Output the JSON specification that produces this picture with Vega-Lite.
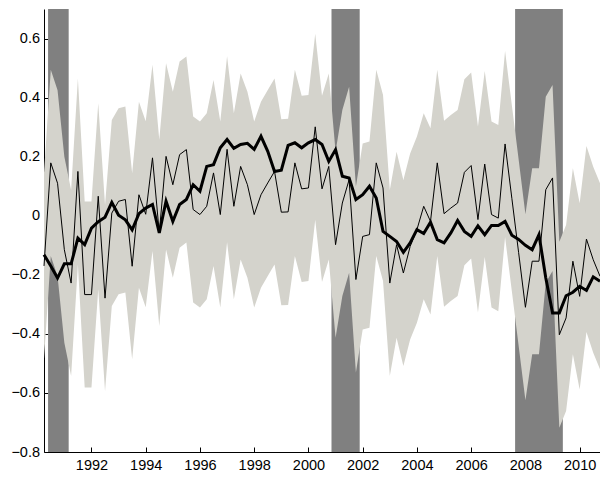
{
  "$schema": "https://vega.github.io/schema/vega-lite/v6.json",
  "width": 556,
  "height": 443,
  "autosize": {"type": "none"},
  "padding": {"left": 44, "top": 9, "right": 0, "bottom": 25},
  "background": "white",
  "config": {
    "view": {"stroke": null},
    "axis": {
      "grid": false,
      "domainColor": "black",
      "domainWidth": 1,
      "tickColor": "black",
      "tickWidth": 1,
      "labelColor": "black",
      "labelFont": "Liberation Sans",
      "labelFontSize": 14.5,
      "title": null
    }
  },
  "datasets": {
    "rec": [
      {"start": 1990.4, "end": 1991.16},
      {"start": 2000.85, "end": 2001.89},
      {"start": 2007.62, "end": 2009.38}
    ],
    "series": [
      {"t": 1990.25, "thin": -0.17, "bold": -0.132, "lo": -0.485, "hi": 0.145},
      {"t": 1990.5, "thin": 0.179, "bold": -0.17, "lo": -0.136, "hi": 0.494},
      {"t": 1990.75, "thin": 0.11, "bold": -0.211, "lo": -0.205, "hi": 0.425},
      {"t": 1991.0, "thin": -0.115, "bold": -0.163, "lo": -0.43, "hi": 0.2},
      {"t": 1991.25, "thin": -0.228, "bold": -0.163, "lo": -0.543, "hi": 0.087},
      {"t": 1991.5, "thin": 0.15, "bold": -0.076, "lo": -0.165, "hi": 0.465},
      {"t": 1991.75, "thin": -0.267, "bold": -0.098, "lo": -0.582, "hi": 0.048},
      {"t": 1992.0, "thin": -0.267, "bold": -0.042, "lo": -0.582, "hi": 0.048},
      {"t": 1992.25, "thin": 0.066, "bold": -0.02, "lo": -0.249, "hi": 0.381},
      {"t": 1992.5, "thin": -0.279, "bold": -0.005, "lo": -0.594, "hi": 0.036},
      {"t": 1992.75, "thin": 0.009, "bold": 0.045, "lo": -0.306, "hi": 0.324},
      {"t": 1993.0, "thin": 0.049, "bold": 0.002, "lo": -0.266, "hi": 0.364},
      {"t": 1993.25, "thin": 0.055, "bold": -0.014, "lo": -0.26, "hi": 0.37},
      {"t": 1993.5, "thin": -0.171, "bold": -0.048, "lo": -0.486, "hi": 0.144},
      {"t": 1993.75, "thin": 0.071, "bold": 0.007, "lo": -0.244, "hi": 0.386},
      {"t": 1994.0, "thin": 0.005, "bold": 0.026, "lo": -0.31, "hi": 0.32},
      {"t": 1994.25, "thin": 0.196, "bold": 0.038, "lo": -0.119, "hi": 0.511},
      {"t": 1994.5, "thin": -0.058, "bold": -0.058, "lo": -0.373, "hi": 0.257},
      {"t": 1994.75, "thin": 0.201, "bold": 0.049, "lo": -0.114, "hi": 0.516},
      {"t": 1995.0, "thin": 0.105, "bold": -0.019, "lo": -0.21, "hi": 0.42},
      {"t": 1995.25, "thin": 0.207, "bold": 0.038, "lo": -0.108, "hi": 0.522},
      {"t": 1995.5, "thin": 0.224, "bold": 0.055, "lo": -0.091, "hi": 0.539},
      {"t": 1995.75, "thin": 0.021, "bold": 0.105, "lo": -0.294, "hi": 0.336},
      {"t": 1996.0, "thin": 0.004, "bold": 0.083, "lo": -0.311, "hi": 0.319},
      {"t": 1996.25, "thin": 0.032, "bold": 0.167, "lo": -0.283, "hi": 0.347},
      {"t": 1996.5, "thin": 0.145, "bold": 0.173, "lo": -0.17, "hi": 0.46},
      {"t": 1996.75, "thin": 0.004, "bold": 0.23, "lo": -0.311, "hi": 0.319},
      {"t": 1997.0, "thin": 0.225, "bold": 0.258, "lo": -0.09, "hi": 0.54},
      {"t": 1997.25, "thin": 0.032, "bold": 0.228, "lo": -0.283, "hi": 0.347},
      {"t": 1997.5, "thin": 0.167, "bold": 0.241, "lo": -0.148, "hi": 0.482},
      {"t": 1997.75, "thin": 0.105, "bold": 0.245, "lo": -0.21, "hi": 0.42},
      {"t": 1998.0, "thin": 0.004, "bold": 0.225, "lo": -0.311, "hi": 0.319},
      {"t": 1998.25, "thin": 0.071, "bold": 0.269, "lo": -0.244, "hi": 0.386},
      {"t": 1998.5, "thin": 0.111, "bold": 0.218, "lo": -0.204, "hi": 0.426},
      {"t": 1998.75, "thin": 0.15, "bold": 0.15, "lo": -0.165, "hi": 0.465},
      {"t": 1999.0, "thin": 0.012, "bold": 0.154, "lo": -0.303, "hi": 0.327},
      {"t": 1999.25, "thin": 0.013, "bold": 0.238, "lo": -0.302, "hi": 0.328},
      {"t": 1999.5, "thin": 0.179, "bold": 0.247, "lo": -0.136, "hi": 0.494},
      {"t": 1999.75, "thin": 0.091, "bold": 0.23, "lo": -0.224, "hi": 0.406},
      {"t": 2000.0, "thin": 0.094, "bold": 0.247, "lo": -0.221, "hi": 0.409},
      {"t": 2000.25, "thin": 0.301, "bold": 0.258, "lo": -0.014, "hi": 0.616},
      {"t": 2000.5, "thin": 0.091, "bold": 0.241, "lo": -0.224, "hi": 0.406},
      {"t": 2000.75, "thin": 0.167, "bold": 0.184, "lo": -0.148, "hi": 0.482},
      {"t": 2001.0, "thin": -0.098, "bold": 0.224, "lo": -0.413, "hi": 0.217},
      {"t": 2001.25, "thin": 0.043, "bold": 0.134, "lo": -0.272, "hi": 0.358},
      {"t": 2001.5, "thin": 0.122, "bold": 0.128, "lo": -0.193, "hi": 0.437},
      {"t": 2001.75, "thin": -0.216, "bold": 0.055, "lo": -0.531, "hi": 0.099},
      {"t": 2002.0, "thin": -0.07, "bold": 0.071, "lo": -0.385, "hi": 0.245},
      {"t": 2002.25, "thin": -0.064, "bold": 0.1, "lo": -0.379, "hi": 0.251},
      {"t": 2002.5, "thin": 0.179, "bold": 0.06, "lo": -0.136, "hi": 0.494},
      {"t": 2002.75, "thin": 0.094, "bold": -0.053, "lo": -0.221, "hi": 0.409},
      {"t": 2003.0, "thin": -0.228, "bold": -0.07, "lo": -0.543, "hi": 0.087},
      {"t": 2003.25, "thin": -0.098, "bold": -0.087, "lo": -0.413, "hi": 0.217},
      {"t": 2003.5, "thin": -0.194, "bold": -0.124, "lo": -0.509, "hi": 0.121},
      {"t": 2003.75, "thin": -0.104, "bold": -0.092, "lo": -0.419, "hi": 0.211},
      {"t": 2004.0, "thin": -0.047, "bold": -0.047, "lo": -0.362, "hi": 0.268},
      {"t": 2004.25, "thin": 0.032, "bold": -0.06, "lo": -0.283, "hi": 0.347},
      {"t": 2004.5, "thin": -0.019, "bold": -0.022, "lo": -0.334, "hi": 0.296},
      {"t": 2004.75, "thin": 0.179, "bold": -0.081, "lo": -0.136, "hi": 0.494},
      {"t": 2005.0, "thin": 0.007, "bold": -0.092, "lo": -0.308, "hi": 0.322},
      {"t": 2005.25, "thin": 0.026, "bold": -0.058, "lo": -0.289, "hi": 0.341},
      {"t": 2005.5, "thin": 0.043, "bold": -0.016, "lo": -0.272, "hi": 0.358},
      {"t": 2005.75, "thin": 0.147, "bold": -0.053, "lo": -0.168, "hi": 0.462},
      {"t": 2006.0, "thin": 0.17, "bold": -0.07, "lo": -0.145, "hi": 0.485},
      {"t": 2006.25, "thin": -0.013, "bold": -0.034, "lo": -0.328, "hi": 0.302},
      {"t": 2006.5, "thin": 0.175, "bold": -0.064, "lo": -0.14, "hi": 0.49},
      {"t": 2006.75, "thin": 0.004, "bold": -0.033, "lo": -0.311, "hi": 0.319},
      {"t": 2007.0, "thin": -0.008, "bold": -0.033, "lo": -0.323, "hi": 0.307},
      {"t": 2007.25, "thin": 0.243, "bold": -0.019, "lo": -0.072, "hi": 0.558},
      {"t": 2007.5, "thin": 0.059, "bold": -0.066, "lo": -0.256, "hi": 0.374},
      {"t": 2007.75, "thin": -0.125, "bold": -0.08, "lo": -0.44, "hi": 0.19},
      {"t": 2008.0, "thin": -0.31, "bold": -0.1, "lo": -0.625, "hi": 0.005},
      {"t": 2008.25, "thin": -0.154, "bold": -0.115, "lo": -0.469, "hi": 0.161},
      {"t": 2008.5, "thin": -0.154, "bold": -0.064, "lo": -0.469, "hi": 0.161},
      {"t": 2008.75, "thin": 0.088, "bold": -0.21, "lo": -0.227, "hi": 0.403},
      {"t": 2009.0, "thin": 0.128, "bold": -0.329, "lo": -0.187, "hi": 0.443},
      {"t": 2009.25, "thin": -0.403, "bold": -0.329, "lo": -0.718, "hi": -0.088},
      {"t": 2009.5, "thin": -0.346, "bold": -0.271, "lo": -0.661, "hi": -0.031},
      {"t": 2009.75, "thin": -0.154, "bold": -0.259, "lo": -0.469, "hi": 0.161},
      {"t": 2010.0, "thin": -0.273, "bold": -0.239, "lo": -0.588, "hi": 0.042},
      {"t": 2010.25, "thin": -0.079, "bold": -0.253, "lo": -0.394, "hi": 0.236},
      {"t": 2010.5, "thin": -0.149, "bold": -0.207, "lo": -0.464, "hi": 0.166},
      {"t": 2010.75, "thin": -0.205, "bold": -0.222, "lo": -0.52, "hi": 0.11}
    ]
  },
  "layer": [
    {
      "data": {"name": "rec"},
      "mark": {"type": "rect", "color": "#808080"},
      "encoding": {
        "x": {
          "field": "start",
          "type": "quantitative",
          "scale": {"domain": [1990.25, 2010.75], "nice": false, "zero": false},
          "axis": {
            "values": [1992, 1994, 1996, 1998, 2000, 2002, 2004, 2006, 2008, 2010],
            "format": "d",
            "tickSize": -5,
            "labelPadding": 11,
            "labelFlush": false
          }
        },
        "x2": {"field": "end"}
      }
    },
    {
      "mark": {"type": "rule", "color": "black", "strokeWidth": 1},
      "encoding": {
        "y": {"datum": 0, "type": "quantitative"}
      }
    },
    {
      "data": {"name": "series"},
      "mark": {"type": "area", "color": "#d4d3cc", "opacity": 1},
      "encoding": {
        "x": {"field": "t", "type": "quantitative"},
        "y": {
          "field": "lo",
          "type": "quantitative",
          "scale": {"domain": [-0.8, 0.7], "nice": false, "zero": false},
          "axis": {
            "values": [-0.8, -0.6, -0.4, -0.2, 0, 0.2, 0.4, 0.6],
            "labelExpr": "datum.value == 0 ? '0' : format(datum.value, '.1f')",
            "tickSize": -4,
            "labelPadding": 8.5
          }
        },
        "y2": {"field": "hi"}
      }
    },
    {
      "data": {"name": "series"},
      "mark": {"type": "line", "color": "black", "strokeWidth": 1},
      "encoding": {
        "x": {"field": "t", "type": "quantitative"},
        "y": {"field": "thin", "type": "quantitative"}
      }
    },
    {
      "data": {"name": "series"},
      "mark": {"type": "line", "color": "black", "strokeWidth": 3},
      "encoding": {
        "x": {"field": "t", "type": "quantitative"},
        "y": {"field": "bold", "type": "quantitative"}
      }
    }
  ]
}
